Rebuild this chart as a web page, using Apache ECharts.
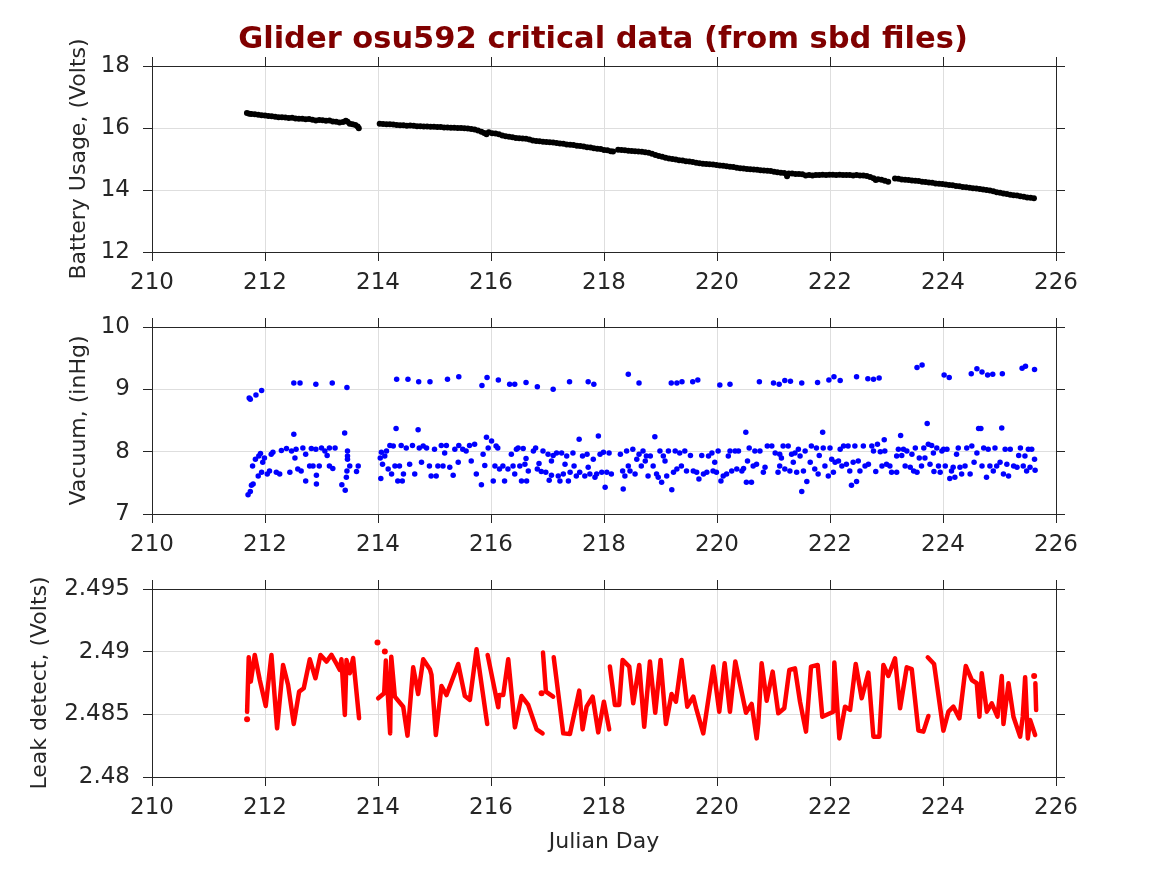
<!DOCTYPE html>
<html><head><meta charset="utf-8">
<script src="https://cdn.jsdelivr.net/npm/echarts@6/dist/echarts.min.js"></script>
<style>html,body{margin:0;padding:0;background:#fff}#c{width:1167px;height:875px}</style>
</head><body><div id="c"></div>
<script>
const titleText = 'Glider osu592 critical data (from sbd files)';
const xName = 'Julian Day';
const yNames = ['Battery Usage, (Volts)', 'Vacuum, (inHg)', 'Leak detect, (Volts)'];
const xRange = [210, 226, 2];
const yRanges = [[12, 18, 2], [7, 10, 1], [2.48, 2.495, 0.005]];

const battery = [
[211.68,16.48],[211.72,16.46],[211.76,16.45],[211.82,16.44],[211.88,16.43],[211.94,16.41],[212.00,16.40],[212.06,16.39],[212.12,16.38],[212.18,16.36],
[212.24,16.35],[212.30,16.35],[212.36,16.34],[212.42,16.32],[212.48,16.33],[212.54,16.31],[212.60,16.30],[212.66,16.30],[212.72,16.28],[212.78,16.29],
[212.84,16.27],[212.90,16.24],[212.96,16.26],[213.02,16.25],[213.08,16.23],[213.14,16.24],[213.20,16.21],[213.26,16.20],[213.32,16.18],[213.38,16.19],
[213.43,16.23],[213.46,16.20],[213.50,16.14],[213.55,16.12],[213.60,16.10],[213.64,16.05],[213.66,15.99],
[214.03,16.14],[214.09,16.13],[214.15,16.12],[214.21,16.12],[214.27,16.11],[214.33,16.10],[214.39,16.09],[214.45,16.09],[214.51,16.07],[214.57,16.08],
[214.63,16.07],[214.69,16.06],[214.75,16.06],[214.81,16.05],[214.87,16.05],[214.93,16.04],[214.99,16.04],[215.05,16.03],[215.11,16.03],[215.17,16.02],
[215.23,16.02],[215.29,16.01],[215.35,16.01],[215.41,16.00],[215.47,16.00],[215.53,15.99],[215.59,15.98],[215.65,15.97],[215.71,15.95],[215.77,15.92],
[215.83,15.88],[215.88,15.84],[215.92,15.80],[215.96,15.86],[216.02,15.83],[216.08,15.82],[216.14,15.80],[216.20,15.76],[216.26,15.73],[216.32,15.72],
[216.38,15.70],[216.44,15.68],[216.50,15.67],[216.56,15.66],[216.62,15.65],[216.68,15.63],[216.74,15.60],[216.80,15.58],[216.86,15.57],[216.92,15.56],
[216.98,15.55],[217.04,15.54],[217.10,15.53],[217.16,15.52],[217.22,15.50],[217.28,15.49],[217.34,15.47],[217.40,15.46],[217.46,15.45],[217.52,15.43],
[217.58,15.42],[217.64,15.40],[217.70,15.38],[217.76,15.37],[217.82,15.35],[217.88,15.33],[217.94,15.32],[218.00,15.29],[218.06,15.28],[218.12,15.25],[218.16,15.24],
[218.25,15.30],[218.31,15.29],[218.37,15.28],[218.43,15.27],[218.49,15.26],[218.55,15.25],[218.61,15.24],[218.67,15.23],[218.73,15.22],[218.79,15.20],
[218.85,15.17],[218.91,15.13],[218.97,15.10],[219.03,15.07],[219.09,15.04],[219.15,15.02],[219.21,15.00],[219.27,14.98],[219.33,14.96],[219.39,14.95],
[219.45,14.93],[219.51,14.92],[219.57,14.90],[219.63,14.88],[219.69,14.86],[219.75,14.85],[219.81,14.84],[219.87,14.83],[219.93,14.82],[219.99,14.81],
[220.05,14.79],[220.11,14.78],[220.17,14.77],[220.23,14.75],[220.29,14.74],[220.35,14.72],[220.41,14.70],[220.47,14.69],[220.53,14.68],[220.59,14.67],
[220.65,14.66],[220.71,14.65],[220.77,14.64],[220.83,14.63],[220.89,14.62],[220.95,14.61],[221.01,14.59],[221.07,14.57],[221.13,14.56],[221.19,14.55],
[221.24,14.44],[221.27,14.53],[221.33,14.53],[221.39,14.52],[221.45,14.52],[221.51,14.51],[221.57,14.47],[221.63,14.48],[221.69,14.47],[221.75,14.48],
[221.81,14.48],[221.87,14.49],[221.93,14.48],[221.99,14.49],[222.05,14.49],[222.11,14.48],[222.17,14.49],[222.23,14.48],[222.29,14.48],[222.35,14.48],
[222.41,14.47],[222.47,14.48],[222.53,14.47],[222.59,14.47],[222.65,14.45],[222.71,14.42],[222.77,14.38],[222.81,14.32],[222.85,14.35],[222.91,14.33],
[222.97,14.30],[223.03,14.27],
[223.15,14.37],[223.21,14.36],[223.27,14.34],[223.33,14.33],[223.39,14.32],[223.45,14.31],[223.51,14.30],[223.57,14.29],[223.63,14.27],[223.69,14.26],
[223.75,14.24],[223.81,14.23],[223.87,14.21],[223.93,14.20],[223.99,14.19],[224.05,14.18],[224.11,14.16],[224.17,14.15],[224.23,14.13],[224.29,14.12],
[224.35,14.10],[224.41,14.09],[224.47,14.07],[224.53,14.06],[224.59,14.05],[224.65,14.03],[224.71,14.02],[224.77,14.00],[224.83,13.98],[224.89,13.96],
[224.95,13.93],[225.01,13.91],[225.07,13.89],[225.13,13.87],[225.19,13.85],[225.25,13.83],[225.31,13.82],[225.37,13.80],[225.43,13.78],[225.49,13.76],
[225.55,13.75],[225.61,13.73]
];

const vacuumHigh = [
[211.72,8.86],[211.74,8.84],[211.84,8.91],[211.94,8.98],[212.51,9.10],[212.62,9.10],[212.90,9.08],[213.19,9.10],[213.45,9.03],[214.33,9.16],
[214.53,9.16],[214.72,9.12],[214.92,9.12],[215.23,9.16],[215.43,9.20],[215.84,9.06],[215.93,9.19],[216.13,9.15],[216.33,9.08],[216.42,9.08],
[216.62,9.11],[216.82,9.04],[217.10,9.00],[217.39,9.12],[217.72,9.12],[217.82,9.08],[218.43,9.24],[218.62,9.10],[219.19,9.10],[219.29,9.10],
[219.38,9.12],[219.57,9.12],[219.66,9.15],[220.05,9.07],[220.23,9.08],[220.75,9.12],[221.00,9.10],[221.10,9.08],[221.20,9.14],[221.30,9.13],
[221.50,9.10],[221.78,9.11],[221.98,9.15],[222.07,9.20],[222.18,9.14],[222.47,9.20],[222.67,9.17],[222.77,9.16],[222.87,9.18],[223.54,9.35],
[223.63,9.39],[224.02,9.23],[224.11,9.19],[224.50,9.25],[224.60,9.33],[224.69,9.28],[224.79,9.23],[224.88,9.24],[225.05,9.25],[225.40,9.34],
[225.46,9.37],[225.62,9.32]
];

const vacuumLow = [
[211.70,7.31],[211.74,7.36],[211.76,7.46],[211.79,7.48],[211.78,7.77],[211.83,7.88],[211.89,7.93],[211.92,7.97],[211.88,7.61],[211.94,7.67],
[211.96,7.83],[211.99,7.90],[212.04,7.64],[212.08,7.69],[212.11,7.96],[212.14,7.99],[212.20,7.67],[212.26,7.64],[212.29,8.02],[212.38,8.05],
[212.44,7.67],[212.47,8.01],[212.51,8.28],[212.53,7.90],[212.55,8.04],[212.58,7.72],[212.64,7.69],[212.67,8.06],[212.72,7.96],[212.72,7.53],
[212.79,7.77],[212.82,8.05],[212.85,7.77],[212.90,8.04],[212.91,7.62],[212.91,7.48],[212.96,7.77],[213.00,8.06],[213.06,8.01],[213.10,7.94],
[213.14,7.77],[213.14,8.06],[213.20,7.73],[213.24,8.06],[213.36,7.47],[213.41,8.30],[213.42,7.38],[213.44,7.59],[213.45,7.69],[213.46,7.88],
[213.46,7.93],[213.46,8.01],[213.50,7.77],[213.62,7.68],[213.65,7.77],
[214.04,7.90],[214.05,7.57],[214.06,7.99],[214.08,7.80],[214.12,7.93],[214.15,8.01],[214.18,7.72],[214.21,8.10],[214.24,7.64],[214.27,8.09],
[214.30,7.77],[214.32,8.37],[214.35,7.53],[214.38,7.77],[214.41,8.10],[214.43,7.53],[214.45,7.64],[214.50,8.06],[214.56,7.80],[214.61,8.10],
[214.65,7.64],[214.71,8.35],[214.73,8.06],[214.77,7.83],[214.80,8.09],[214.86,8.06],[214.91,7.77],[214.94,7.61],[215.00,8.04],[215.03,7.61],
[215.06,7.77],[215.12,8.10],[215.15,7.77],[215.18,7.98],[215.21,8.10],[215.27,7.75],[215.33,7.62],[215.36,8.04],[215.42,7.83],[215.43,8.10],
[215.50,8.04],[215.56,8.01],[215.62,8.10],[215.65,7.85],[215.71,8.12],[215.74,7.64],[215.83,7.47],[215.86,7.96],[215.89,7.78],[215.92,8.23],
[215.95,8.06],[216.01,8.17],[216.04,7.53],[216.07,7.77],[216.09,8.09],[216.12,8.06],[216.15,7.72],[216.21,7.77],[216.24,7.53],[216.30,7.72],
[216.36,7.96],[216.39,7.77],[216.42,7.64],[216.45,8.04],[216.48,8.06],[216.51,7.77],[216.54,7.53],[216.57,8.05],[216.60,7.80],[216.62,7.89],
[216.63,7.53],[216.66,7.69],[216.75,8.01],[216.79,8.06],[216.82,7.72],[216.85,7.81],[216.89,7.68],[216.92,8.01],[216.97,7.67],[217.01,7.96],
[217.03,7.54],[217.07,7.85],[217.07,7.62],[217.10,7.94],[217.16,7.98],[217.19,7.61],[217.22,7.53],[217.25,7.98],[217.28,7.64],[217.31,7.80],
[217.34,7.93],[217.37,7.53],[217.40,7.67],[217.45,7.98],[217.47,7.77],[217.51,7.61],[217.56,8.20],[217.57,7.67],[217.62,7.93],[217.66,7.61],
[217.70,7.96],[217.72,7.75],[217.75,7.64],[217.81,7.88],[217.84,7.59],[217.87,7.64],[217.90,8.25],[217.93,7.96],[217.96,7.67],[217.99,7.99],
[218.02,7.43],[218.05,7.67],[218.09,7.98],[218.13,7.64],[218.29,7.96],[218.33,7.69],[218.34,7.40],[218.37,7.61],[218.40,8.01],[218.43,7.77],
[218.46,7.69],[218.51,8.04],[218.55,7.64],[218.58,7.88],[218.62,7.96],[218.66,7.77],[218.69,8.01],[218.73,7.85],[218.75,7.93],[218.78,7.61],
[218.82,7.93],[218.87,7.77],[218.90,8.24],[218.93,7.64],[218.96,7.59],[218.99,8.01],[219.02,7.51],[219.05,7.93],[219.08,7.85],[219.11,7.61],
[219.14,8.01],[219.20,7.39],[219.23,7.67],[219.26,8.01],[219.29,7.72],[219.34,7.98],[219.37,7.77],[219.43,8.01],[219.46,7.69],[219.53,7.94],
[219.58,7.69],[219.64,7.67],[219.68,7.56],[219.73,7.94],[219.76,7.64],[219.82,7.67],[219.85,7.93],[219.91,7.98],[219.93,7.69],[219.96,7.83],
[219.99,7.67],[220.02,8.01],[220.07,7.53],[220.11,7.61],[220.17,7.64],[220.20,7.93],[220.23,8.01],[220.26,7.69],[220.32,8.01],[220.35,7.72],
[220.38,8.01],[220.44,7.69],[220.47,7.73],[220.51,8.31],[220.52,7.51],[220.54,7.85],[220.57,8.06],[220.61,7.51],[220.64,7.77],[220.67,8.01],
[220.70,7.80],[220.76,8.01],[220.82,7.67],[220.85,7.75],[220.89,8.09],[220.97,8.09],[221.03,7.98],[221.08,7.67],
[221.11,7.96],[221.11,7.77],[221.14,7.90],[221.17,8.09],[221.20,7.72],[221.26,8.09],[221.29,7.69],[221.32,7.96],[221.35,7.83],[221.38,7.98],
[221.41,7.67],[221.44,8.04],[221.47,7.93],[221.50,7.36],[221.53,7.69],[221.56,8.01],[221.59,7.52],[221.65,7.83],[221.67,8.09],[221.73,7.72],
[221.76,8.06],[221.79,7.64],[221.81,7.94],[221.87,8.31],[221.88,8.06],[221.91,7.77],[221.97,7.61],[222.00,8.06],[222.03,7.88],[222.06,7.67],
[222.09,7.83],[222.15,7.85],[222.18,8.04],[222.21,7.77],[222.24,8.09],[222.29,7.80],[222.32,8.09],[222.35,7.69],[222.38,7.46],[222.41,7.83],
[222.44,8.09],[222.47,7.52],[222.50,7.85],[222.53,7.69],[222.59,8.09],[222.62,7.77],[222.68,7.80],[222.74,8.09],[222.77,8.01],[222.81,7.68],
[222.84,8.12],[222.89,8.00],[222.92,7.77],[222.96,8.19],[222.97,8.01],[223.00,7.80],[223.06,7.77],[223.09,7.67],[223.18,7.67],[223.18,7.93],
[223.21,8.04],[223.25,8.26],[223.27,7.94],[223.30,8.04],[223.33,7.77],[223.36,8.01],[223.42,7.75],[223.45,7.96],[223.48,7.69],[223.51,8.06],
[223.54,7.67],[223.58,7.90],[223.62,7.77],[223.66,8.06],[223.68,7.90],[223.72,8.45],[223.74,8.12],[223.77,7.80],[223.80,8.10],[223.83,7.98],
[223.84,7.68],[223.89,8.06],[223.92,7.77],[223.95,7.67],[223.98,8.01],[224.01,8.04],[224.04,7.77],[224.07,8.04],[224.12,7.57],[224.15,7.69],
[224.18,7.75],[224.21,7.59],[224.24,7.96],[224.27,8.06],[224.30,7.75],[224.33,7.64],[224.39,7.77],[224.42,8.06],[224.48,7.64],[224.51,8.09],
[224.55,7.83],[224.60,7.98],[224.63,8.37],[224.67,8.37],[224.69,7.77],[224.72,8.06],[224.77,7.59],[224.80,8.04],[224.83,7.77],[224.89,7.69],
[224.92,8.06],[224.95,7.77],[225.01,7.83],[225.04,8.38],[225.07,7.64],[225.10,8.04],[225.13,7.80],[225.16,7.61],[225.19,8.04],[225.25,7.77],
[225.31,7.75],[225.34,7.94],[225.37,8.06],[225.42,7.77],[225.45,7.93],[225.48,7.69],[225.51,8.04],[225.54,7.75],[225.57,8.04],[225.62,7.88],
[225.63,7.70]
];

const leak = [
[211.683,2.4852],[211.712,2.48955],[211.748,2.48761],[211.819,2.48974],[211.907,2.48774],[212.013,2.48567],[212.114,2.48974],[212.214,2.48388],
[212.320,2.48894],[212.409,2.48734],[212.509,2.48423],[212.604,2.48681],[212.686,2.48708],[212.793,2.48939],[212.893,2.48788],[212.982,2.48974],
[213.088,2.48921],[213.176,2.48974],[213.277,2.48894],[213.324,2.48854],[213.353,2.48939],[213.413,2.48495],[213.442,2.48934],[213.501,2.48828],
[213.560,2.48950],[213.665,2.48468],
null,
[214.003,2.48628],[214.109,2.48668],[214.139,2.48929],[214.215,2.48348],[214.235,2.48960],[214.298,2.48641],[214.446,2.48561],[214.522,2.48330],
[214.623,2.48875],[214.711,2.48662],[214.800,2.48939],[214.918,2.48860],[214.947,2.48814],[215.024,2.48335],[215.124,2.48726],[215.213,2.48654],
[215.420,2.48902],[215.537,2.48646],[215.626,2.48615],[215.744,2.49019],[215.933,2.48423],
null,
[215.940,2.48974],[216.128,2.48556],[216.146,2.48654],[216.217,2.48654],[216.305,2.48939],[216.423,2.48396],[216.541,2.48646],[216.659,2.48575],
[216.807,2.48380],[216.913,2.48348],
null,
[216.920,2.48993],[216.972,2.48681],[217.100,2.48641],
null,
[217.110,2.48955],[217.279,2.48348],[217.397,2.48343],[217.562,2.48689],[217.621,2.48380],[217.692,2.48561],[217.799,2.48641],[217.898,2.48356],
[217.998,2.48601],[218.092,2.48380],
null,
[218.104,2.48881],[218.193,2.48575],[218.269,2.48575],[218.329,2.48934],[218.447,2.48881],[218.517,2.48588],[218.624,2.48894],[218.712,2.48401],
[218.813,2.48921],[218.907,2.48513],[219.001,2.48934],[219.096,2.48423],[219.196,2.48662],[219.273,2.48601],[219.373,2.48934],[219.474,2.48561],
[219.580,2.48641],[219.639,2.48535],[219.757,2.48348],[219.934,2.48881],[220.040,2.48521],[220.135,2.48907],[220.229,2.48521],[220.324,2.48921],
[220.513,2.48513],[220.613,2.48583],[220.702,2.48308],[220.731,2.48428],[220.790,2.48907],[220.879,2.48609],[220.985,2.48841],[221.085,2.48508],
[221.191,2.48548],[221.280,2.48854],[221.380,2.48867],[221.469,2.48601],[221.575,2.48362],[221.664,2.48881],[221.782,2.48894],[221.864,2.48481],
[222.059,2.48521],[222.077,2.48913],[222.166,2.48308],[222.266,2.48561],[222.355,2.48535],[222.455,2.48902],[222.561,2.48628],[222.679,2.48833],
[222.768,2.48322],[222.874,2.48322],[222.945,2.48894],[223.033,2.48806],[223.151,2.48947],[223.240,2.48548],[223.358,2.48875],[223.447,2.48860],
[223.565,2.48370],[223.653,2.48362],[223.742,2.48487],
null,
[223.730,2.48955],[223.842,2.48902],[224.007,2.48370],[224.096,2.48521],[224.184,2.48561],[224.291,2.48468],[224.403,2.48886],[224.509,2.48774],
[224.598,2.48748],[224.645,2.48481],[224.686,2.48828],[224.775,2.48521],[224.863,2.48588],[224.964,2.48481],[225.040,2.48806],[225.070,2.48423],
[225.159,2.48748],[225.247,2.48481],[225.365,2.48322],[225.412,2.48481],[225.454,2.48796],[225.501,2.48308],[225.542,2.48455],[225.631,2.48335],
null,
[225.635,2.48748],[225.649,2.48535]
];

const leakDots = [[211.683,2.4846],[213.991,2.49073],[214.121,2.49001],[216.895,2.48668],[225.613,2.48806]];

const FONT = 'DejaVu Sans';
const TXT = '#262626';
const gridTops = [66, 327, 589];
const gridHeights = [186, 187, 188];
const yNameGaps = [62, 62, 101];

const grids = [], xAxes = [], yAxes = [];
for (let i = 0; i < 3; i++) {
  grids.push({ left: 152, width: 904, top: gridTops[i], height: gridHeights[i], containLabel: false });
  const lineStyle = { color: TXT, width: 1 };
  xAxes.push({
    gridIndex: i, type: 'value', min: xRange[0], max: xRange[1], interval: xRange[2], position: 'bottom',
    axisLine: { show: true, onZero: false, lineStyle }, axisTick: { show: true, length: 9, lineStyle },
    axisLabel: { margin: 20, fontSize: 23, fontFamily: FONT, color: TXT },
    splitLine: { show: true, lineStyle: { color: '#dedede', width: 1 } },
    name: i === 2 ? xName : '', nameLocation: 'middle', nameGap: 54,
    nameTextStyle: { fontSize: 22, fontFamily: FONT, color: TXT }
  });
  xAxes.push({
    gridIndex: i, type: 'value', min: xRange[0], max: xRange[1], interval: xRange[2], position: 'top',
    axisLine: { show: true, onZero: false, lineStyle }, axisTick: { show: true, length: 9, lineStyle },
    axisLabel: { show: false }, splitLine: { show: false }
  });
  yAxes.push({
    gridIndex: i, type: 'value', min: yRanges[i][0], max: yRanges[i][1], interval: yRanges[i][2], position: 'left',
    axisLine: { show: true, onZero: false, lineStyle }, axisTick: { show: true, length: 9, lineStyle },
    axisLabel: { margin: 22, fontSize: 23, fontFamily: FONT, color: TXT },
    splitLine: { show: true, lineStyle: { color: '#dedede', width: 1 } },
    name: yNames[i], nameLocation: 'middle', nameRotate: 90, nameGap: yNameGaps[i],
    nameTextStyle: { fontSize: 22, fontFamily: FONT, color: TXT }
  });
  yAxes.push({
    gridIndex: i, type: 'value', min: yRanges[i][0], max: yRanges[i][1], interval: yRanges[i][2], position: 'right',
    axisLine: { show: true, onZero: false, lineStyle }, axisTick: { show: true, length: 9, lineStyle },
    axisLabel: { show: false }, splitLine: { show: false }
  });
}

const chart = echarts.init(document.getElementById('c'), null, { renderer: 'canvas' });
chart.setOption({
  animation: false,
  backgroundColor: '#ffffff',
  title: {
    text: titleText, left: 598, top: 20, textAlign: 'center',
    textStyle: { fontSize: 30.5, fontWeight: 'bold', fontFamily: FONT, color: '#800000' }
  },
  grid: grids, xAxis: xAxes, yAxis: yAxes,
  series: [
    { type: 'scatter', xAxisIndex: 0, yAxisIndex: 0, data: battery, symbolSize: 6, itemStyle: { color: '#000000', opacity: 1 } },
    { type: 'scatter', xAxisIndex: 2, yAxisIndex: 2, data: vacuumLow.concat(vacuumHigh), symbolSize: 5.5, itemStyle: { color: '#0000ff', opacity: 1 } },
    { type: 'line', xAxisIndex: 4, yAxisIndex: 4, data: leak, showSymbol: false, connectNulls: false,
      lineStyle: { color: '#ff0000', width: 4.5, cap: 'round', join: 'round' } },
    { type: 'scatter', xAxisIndex: 4, yAxisIndex: 4, data: leakDots, symbolSize: 6, itemStyle: { color: '#ff0000', opacity: 1 } }
  ]
});
</script>
</body></html>
